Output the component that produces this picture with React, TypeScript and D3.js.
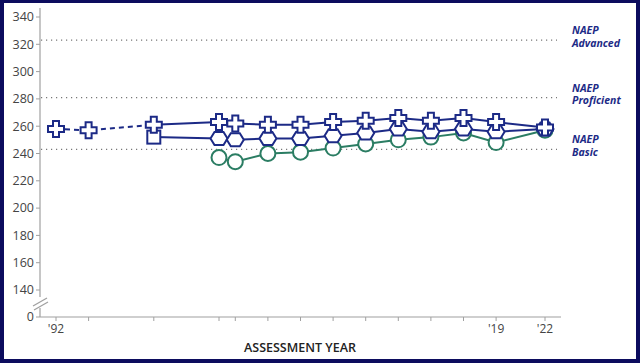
import React from "react";
import * as d3 from "d3";

// assessment years and scores
const years = [1992, 1994, 1998, 2002, 2003, 2005, 2007, 2009, 2011, 2013, 2015, 2017, 2019, 2022];
const tickLabels = ["'92", "", "", "", "", "", "", "", "", "", "", "", "'19", "'22"];

const crossDashYears = [1992, 1994, 1998];
const crossDashValues = [258, 257, 261];

const crossYears = [1998, 2002, 2003, 2005, 2007, 2009, 2011, 2013, 2015, 2017, 2019, 2022];
const crossValues = [261, 263, 262, 261, 261, 263, 264, 266, 264, 266, 263, 259];

const hexYears = [1998, 2002, 2003, 2005, 2007, 2009, 2011, 2013, 2015, 2017, 2019, 2022];
const hexValues = [252, 251, 250, 251, 251, 253, 255, 258, 256, 258, 256, 258];

const circleYears = [2002, 2003, 2005, 2007, 2009, 2011, 2013, 2015, 2017, 2019, 2022];
const circleValues = [237, 234, 240, 241, 244, 247, 250, 252, 255, 248, 257];

const yTicks = [0, 140, 160, 180, 200, 220, 240, 260, 280, 300, 320, 340];

const levels = [
  { name: "Advanced", value: 323 },
  { name: "Proficient", value: 281 },
  { name: "Basic", value: 243 },
];

const NAVY = "#1c2a86";
const GREEN = "#2b7d63";
const FONT = "'Open Sans', sans-serif";

export default function App() {
  const x = d3.scaleLinear().domain([1992, 2022]).range([56, 545]);
  const y = d3.scaleLinear().domain([0, 140, 340]).range([317, 290, 17]);

  const line = d3.line<[number, number]>()
    .x(d => x(d[0]))
    .y(d => y(d[1]));

  const zip = (a: number[], b: number[]) => a.map((v, i) => [v, b[i]] as [number, number]);

  const crossPath = "M-3,-8H3V-3H8V3H3V8H-3V3H-8V-3H-3Z";
  const hexPath = "M-4.5,-6.5H4.5L8.5,0L4.5,6.5H-4.5L-8.5,0Z";

  return (
    <svg width={640} height={363} style={{ position: "absolute", left: 0, top: 0, fontFamily: FONT }}>
      <rect x={0} y={0} width={640} height={363} fill="#0c0c5e" />
      <rect x={4} y={3} width={632} height={356} fill="#ffffff" />

      {/* performance level lines */}
      {levels.map(l => (
        <g key={l.name}>
          <line x1={41} x2={557} y1={y(l.value)} y2={y(l.value)} stroke="#777" strokeWidth={1.2} strokeDasharray="1.2,3.8" />
          <text x={572} y={y(l.value) - 6} fill={NAVY} fontSize={10.5} fontWeight={700} fontStyle="italic">NAEP</text>
          <text x={572} y={y(l.value) + 6.5} fill={NAVY} fontSize={10.5} fontWeight={700} fontStyle="italic">{l.name}</text>
        </g>
      ))}

      {/* y axis */}
      <line x1={40} x2={40} y1={8} y2={297} stroke="#a0a0a0" strokeWidth={1.2} />
      <line x1={40} x2={40} y1={308} y2={317} stroke="#a0a0a0" strokeWidth={1.2} />
      <line x1={33} x2={47} y1={306} y2={298} stroke="#a0a0a0" strokeWidth={1.2} />
      <line x1={34} x2={48} y1={310} y2={302} stroke="#a0a0a0" strokeWidth={1.2} />
      {yTicks.map(t => (
        <g key={t} transform={`translate(0,${y(t)})`}>
          <line x1={36} x2={40} stroke="#a0a0a0" strokeWidth={1} />
          <text x={34} dy="0.35em" textAnchor="end" fontSize={12.5} fill="#444">{t}</text>
        </g>
      ))}

      {/* x axis */}
      <line x1={40} x2={561} y1={317} y2={317} stroke="#a0a0a0" strokeWidth={1.2} />
      {years.map((yr, i) => (
        <g key={yr} transform={`translate(${x(yr)},317)`}>
          <line y1={0} y2={4} stroke="#a0a0a0" strokeWidth={1} />
          <text y={16} textAnchor="middle" fontSize={12} fill="#444">{tickLabels[i]}</text>
        </g>
      ))}
      <text x={300} y={352} textAnchor="middle" fontSize={12.5} fontWeight={600} fill="#222">ASSESSMENT YEAR</text>

      {/* lines */}
      <path d={line(zip(circleYears, circleValues)) || ""} fill="none" stroke={GREEN} strokeWidth={2} />
      <path d={line(zip(hexYears, hexValues)) || ""} fill="none" stroke={NAVY} strokeWidth={2} />
      <path d={line(zip(crossYears, crossValues)) || ""} fill="none" stroke={NAVY} strokeWidth={2} />
      <path d={line(zip(crossDashYears, crossDashValues)) || ""} fill="none" stroke={NAVY} strokeWidth={2} strokeDasharray="5,4" />

      {/* markers */}
      {zip(circleYears, circleValues).map(d => (
        <circle key={`c${d[0]}`} cx={x(d[0])} cy={y(d[1])} r={7.5} fill="#fff" stroke={GREEN} strokeWidth={2} />
      ))}
      {zip(hexYears, hexValues).map((d, i) =>
        i === 0 ? (
          <rect key={`h${d[0]}`} x={x(d[0]) - 6.5} y={y(d[1]) - 6.5} width={13} height={13} fill="#fff" stroke={NAVY} strokeWidth={2} />
        ) : (
          <path key={`h${d[0]}`} d={hexPath} transform={`translate(${x(d[0])},${y(d[1])})`} fill="#fff" stroke={NAVY} strokeWidth={2} />
        )
      )}
      {zip(crossDashYears, crossDashValues).concat(zip(crossYears, crossValues).slice(1)).map(d => (
        <path key={`x${d[0]}`} d={crossPath} transform={`translate(${x(d[0])},${y(d[1])})`} fill="#fff" stroke={NAVY} strokeWidth={2} />
      ))}
    </svg>
  );
}
